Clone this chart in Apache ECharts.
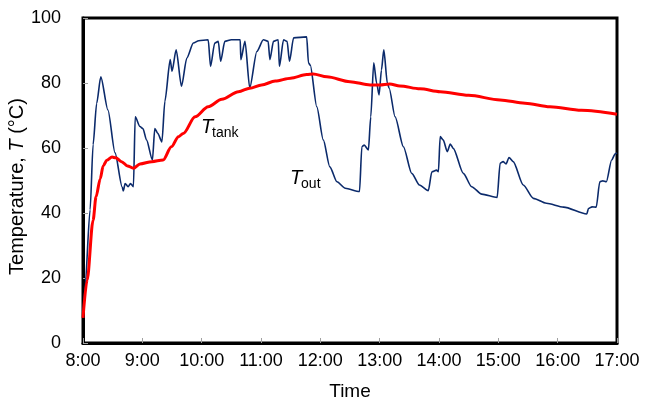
<!DOCTYPE html>
<html>
<head>
<meta charset="utf-8">
<script src="https://cdn.jsdelivr.net/npm/echarts@6/dist/echarts.min.js"></script>
<style>
  html, body { margin: 0; padding: 0; background: #fff; }
  #chart { width: 650px; height: 401px; }
</style>
</head>
<body>
<div id="chart"></div>
<script>
// Outlet water temperature (hours of day, °C)
const toutHours = [8.00, 8.03, 8.12, 8.17, 8.23, 8.30, 8.42, 8.54, 8.66, 8.68, 8.71, 8.76, 8.80, 8.85, 8.88, 8.96, 9.01, 9.07, 9.17, 9.21, 9.26, 9.33, 9.38, 9.47, 9.50, 9.57, 9.66, 9.75, 9.86, 9.95, 10.11, 10.15, 10.22, 10.28, 10.32, 10.39, 10.50, 10.65, 10.66, 10.73, 10.81, 10.93, 11.04, 11.12, 11.15, 11.21, 11.29, 11.31, 11.38, 11.44, 11.48, 11.55, 11.77, 11.80, 11.83, 11.94, 12.05, 12.16, 12.28, 12.42, 12.66, 12.70, 12.74, 12.81, 12.85, 12.90, 12.95, 12.99, 13.03, 13.07, 13.13, 13.16, 13.26, 13.40, 13.54, 13.67, 13.82, 13.88, 13.96, 13.99, 14.02, 14.07, 14.14, 14.19, 14.24, 14.41, 14.55, 14.72, 14.98, 15.03, 15.08, 15.13, 15.18, 15.25, 15.42, 15.59, 15.81, 16.10, 16.49, 16.52, 16.58, 16.65, 16.71, 16.76, 16.82, 16.91, 16.97, 17.00];
const toutTemps = [9, 16, 41, 61, 73.7, 81.9, 71.7, 58.5, 48, 46.8, 49.1, 48.1, 49.1, 48.1, 69.6, 66.6, 66, 62.5, 56.3, 66, 64.5, 61.9, 74.4, 87.2, 83.6, 90.2, 79, 87.7, 92.3, 93, 93.3, 85.1, 92.3, 92.8, 86.7, 92.8, 93.3, 93.3, 87.2, 92.8, 78.5, 89.7, 93.3, 92.8, 87.2, 92.8, 93.3, 85.1, 93.3, 92.8, 86.7, 93.9, 94.2, 86.2, 85.5, 72.7, 62.5, 54.2, 49.6, 47.6, 46.6, 60.4, 60.9, 59.4, 69.6, 86.2, 79.9, 76.3, 84, 90.2, 79.9, 78.4, 69.6, 60.4, 52.2, 48.6, 46.9, 52.7, 53.2, 52.7, 63.5, 62.5, 58.9, 61.2, 59.9, 52.2, 48.1, 45.8, 44.8, 55.3, 55.8, 55.1, 57.1, 55.8, 48.6, 44.5, 43, 41.8, 39.7, 41.4, 41.9, 41.8, 49.6, 49.9, 49.6, 56.3, 58.2, 58.5];

// Storage tank temperature (hours of day, °C)
const ttankHours = [8.00, 8.07, 8.17, 8.22, 8.29, 8.34, 8.40, 8.49, 8.55, 8.65, 8.75, 8.85, 8.96, 9.16, 9.35, 9.49, 9.61, 9.69, 9.89, 10.11, 10.34, 10.62, 10.81, 11.01, 11.24, 11.50, 11.77, 11.88, 12.11, 12.50, 12.84, 13.00, 13.17, 13.34, 13.68, 14.02, 14.50, 15.03, 15.45, 15.87, 16.40, 17.00];
const ttankTemps = [7.7, 19.4, 37.8, 45, 50.5, 54.5, 56.2, 57.2, 57, 55.8, 54.5, 53.8, 55.1, 55.8, 56.3, 60.4, 63.5, 64.5, 69.6, 72.7, 75, 77.3, 78.4, 79.4, 80.6, 81.5, 82.6, 82.8, 81.9, 80.4, 79.4, 79.4, 79.7, 79.1, 78.2, 77.3, 76.2, 74.8, 73.8, 72.7, 71.6, 70.4];

// Axis ticks
const hourTicks = [8, 9, 10, 11, 12, 13, 14, 15, 16, 17];
const tempTicks = [0, 20, 40, 60, 80, 100];

const pair = (xs, ys) => xs.map((x, i) => [x, ys[i]]);

const chart = echarts.init(document.getElementById('chart'), null, { renderer: 'canvas' });
const FONT = '"Liberation Sans", Arial, sans-serif';

chart.setOption({
  animation: false,
  backgroundColor: '#fff',
  grid: { left: 83, right: 33, top: 18, bottom: 58, containLabel: false, outerBoundsMode: 'none',
          show: true, borderColor: '#000', borderWidth: 3 },
  xAxis: {
    type: 'value',
    min: hourTicks[0], max: hourTicks[hourTicks.length - 1], interval: 1,
    name: 'Time', nameLocation: 'middle', nameGap: 39, nameMoveOverlap: false,
    nameTextStyle: { fontFamily: FONT, fontSize: 19, color: '#000' },
    axisLine: { lineStyle: { color: '#000', width: 3 } },
    axisTick: { inside: true, length: 5, lineStyle: { color: '#a0a0a0', width: 1 } },
    axisLabel: { fontFamily: FONT, fontSize: 18, color: '#000', margin: 9,
                 formatter: v => v + ':00' },
    splitLine: { show: false }
  },
  yAxis: {
    type: 'value',
    min: tempTicks[0], max: tempTicks[tempTicks.length - 1], interval: 20,
    name: 'Temperature, {i|T} (°C)', nameLocation: 'middle', nameGap: 56, nameMoveOverlap: false,
    nameTextStyle: { fontFamily: FONT, fontSize: 20, color: '#000', padding: [0, 12, 0, 0],
                     rich: { i: { fontFamily: FONT, fontSize: 20, fontStyle: 'italic', color: '#000' } } },
    axisLine: { lineStyle: { color: '#000', width: 3 } },
    axisTick: { inside: true, length: 5, lineStyle: { color: '#a0a0a0', width: 1 } },
    axisLabel: { fontFamily: FONT, fontSize: 18, color: '#000', margin: 22 },
    splitLine: { show: false }
  },
  series: [
    {
      name: 'Tout', type: 'line', data: pair(toutHours, toutTemps),
      symbol: 'none', smooth: 0.25, smoothMonotone: 'x',
      lineStyle: { color: '#0b2a6b', width: 1.6 }, z: 2
    },
    {
      name: 'Ttank', type: 'line', data: pair(ttankHours, ttankTemps),
      symbol: 'none', smooth: 0.3, smoothMonotone: 'x',
      lineStyle: { color: '#ff0000', width: 3 }, z: 3
    }
  ]
});

// Curve labels: italic T with a subscript, anchored at the text baseline in data units
function curveLabel(hour, temp, sub) {
  const p = chart.convertToPixel({ gridIndex: 0 }, [hour, temp]);
  return [
    { type: 'text', x: p[0], y: p[1] + 4, style: { text: 'T', fontFamily: FONT, fontSize: 20, fontStyle: 'italic',
      fill: '#000', verticalAlign: 'bottom' } },
    { type: 'text', x: p[0] + 11, y: p[1] + 7, style: { text: sub, fontFamily: FONT, fontSize: 14,
      fill: '#000', verticalAlign: 'bottom' } }
  ];
}
chart.setOption({
  graphic: [].concat(curveLabel(9.99, 64.6, 'tank'), curveLabel(11.49, 48.9, 'out'))
});
</script>
</body>
</html>
